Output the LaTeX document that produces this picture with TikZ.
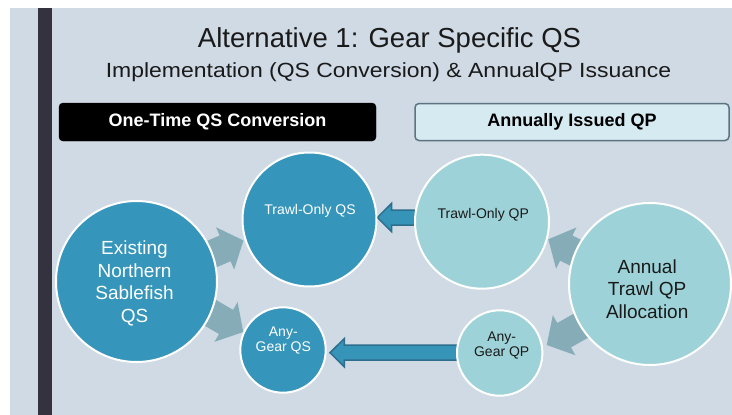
\documentclass[tikz,border=0pt]{standalone}
\usepackage{fontspec}
\setmainfont{Liberation Sans}
\newfontfamily\widesans[FakeStretch=1.12]{Liberation Sans}
\definecolor{bgc}{HTML}{CFDAE5}
\definecolor{barc}{HTML}{35323F}
\definecolor{darkc}{HTML}{3595BA}
\definecolor{lightc}{HTML}{9DD3D8}
\definecolor{grayarr}{HTML}{86ADB7}
\definecolor{bluearr}{HTML}{3594B8}
\definecolor{bluearrb}{HTML}{2C6E8C}
\definecolor{boxfill}{HTML}{D5EAF1}
\definecolor{boxline}{HTML}{5E7380}
\definecolor{txt}{HTML}{1A1A1A}
\newcommand{\blockarr}[8]{%
  \begin{scope}[shift={(#2,#3)}, rotate=#4]
    \path[#1] (0,0) -- (-#6,#7/2) -- (-#6,#8/2) -- (-#5,#8/2) -- (-#5,-#8/2) -- (-#6,-#8/2) -- (-#6,-#7/2) -- cycle;
  \end{scope}}
\begin{document}
\begin{tikzpicture}[x=1pt,y=-1pt,
  dcirc/.style={circle, fill=darkc, draw=white, line width=2pt, inner sep=0pt},
  lcirc/.style={circle, fill=lightc, draw=white, line width=2pt, inner sep=0pt},
  bigtxt/.style={align=center, inner sep=0pt, anchor=base, font=\fontsize{19}{22.6}\selectfont},
  smalltxt/.style={align=center, inner sep=0pt, anchor=base, font=\fontsize{14}{15.6}\selectfont},
  grayfill/.style={fill=grayarr},
  bluefill/.style={fill=bluearr, draw=bluearrb, line width=1.5pt, line join=miter}
]
\useasboundingbox (0,0) rectangle (732,415);
\fill[white] (0,0) rectangle (732,415);
\fill[bgc] (10,8) rectangle (732,415);
\fill[barc] (37.7,8) rectangle (52,415);

% titles
\node[anchor=base, inner sep=0pt, text=txt, font=\fontsize{27.5}{32}\selectfont] (title) at (389.5,47.3) {Alternative 1: Gear Specific QS};
\node[anchor=base, inner sep=0pt, text=txt, font=\widesans\fontsize{20.5}{24}\selectfont] (subtitle) at (388.5,77.3) {Implementation (QS Conversion) \& AnnualQP Issuance};

% header boxes
\draw[fill=black, rounded corners=4pt] (59,103) rectangle (376,141);
\node[text=white, font=\bfseries\fontsize{18}{21}\selectfont, inner sep=0pt] (hdr1) at (217.5,122) {One-Time QS Conversion};
\draw[fill=boxfill, draw=boxline, line width=1.5pt, rounded corners=4pt] (415,103.5) rectangle (729,140.5);
\node[text=black, font=\bfseries\fontsize{18}{21}\selectfont, inner sep=0pt] (hdr2) at (572,122) {Annually Issued QP};

% gray block arrows
\blockarr{grayfill}{243.5}{240.5}{23.2}{60}{20}{46}{28}
\blockarr{grayfill}{243.3}{332}{-30.2}{60}{20}{46}{28}
\blockarr{grayfill}{548.3}{239.3}{153.8}{60}{20}{46}{28}
\blockarr{grayfill}{546.7}{345}{-150.6}{60}{20}{46}{28}

% blue block arrows
\blockarr{bluefill}{377.3}{217.5}{180}{38}{14.4}{28.4}{15}
\blockarr{bluefill}{330}{352.7}{180}{130}{14.4}{28.4}{15}

% circles
\node[dcirc, minimum size=161pt] (ex) at (136.5,281.5) {};
\node[dcirc, minimum size=134pt] (tqs) at (309.5,219.5) {};
\node[dcirc, minimum size=85.4pt] (aqs) at (283,350) {};
\node[lcirc, minimum size=134pt] (tqp) at (482,221.7) {};
\node[lcirc, minimum size=162pt] (atq) at (650,284) {};
\node[lcirc, minimum size=85.4pt] (aqp) at (499.7,353) {};

% labels (base anchor = baseline of the last line)
\node[bigtxt, text=white] (exl) at (134.5,322.3) {Existing\\Northern\\Sablefish\\QS};
\node[smalltxt, text=white] (tqsl) at (310,214.3) {Trawl-Only QS};
\node[smalltxt, text=white] (aqsl) at (283.3,351.7) {Any-\\Gear QS};
\node[smalltxt, text=txt] (tqpl) at (483.3,218.3) {Trawl-Only QP};
\node[smalltxt, text=txt] (aqpl) at (501.7,356.7) {Any-\\Gear QP};
\node[bigtxt, text=txt] (atql) at (647.2,318.3) {Annual\\Trawl QP\\Allocation};
\end{tikzpicture}
\end{document}
